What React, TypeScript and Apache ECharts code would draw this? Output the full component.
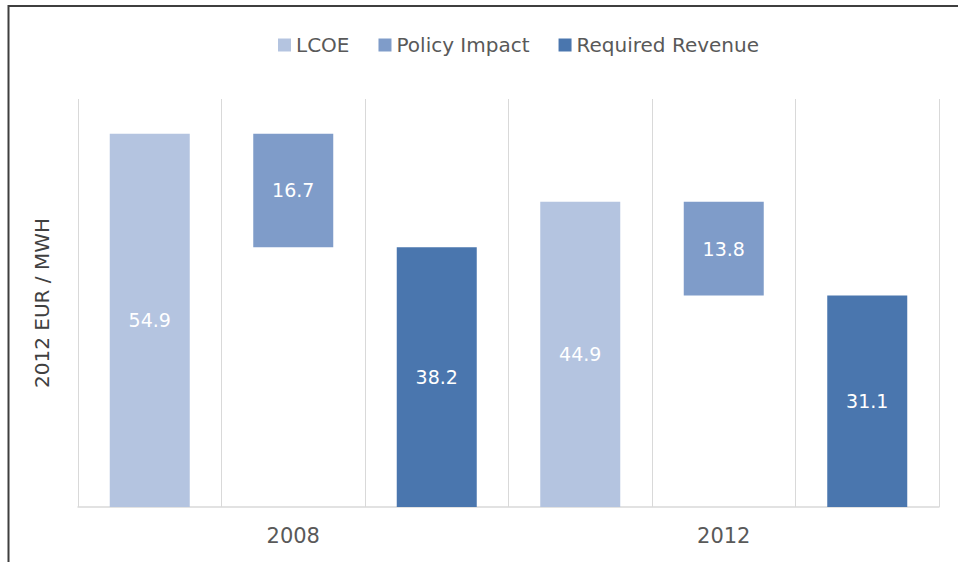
import React, { useEffect, useRef } from "react";
import * as echarts from "echarts";

const slots = ["2008 LCOE", "2008 Policy", "2008 Revenue", "2012 LCOE", "2012 Policy", "2012 Revenue"];
const years = ["2008", "2012"];
const baseValues = [0, 38.2, 0, 0, 31.1, 0];
const lcoeValues: (number | string)[] = [54.9, "-", "-", 44.9, "-", "-"];
const policyValues: (number | string)[] = ["-", 16.7, "-", "-", 13.8, "-"];
const revenueValues: (number | string)[] = ["-", "-", 38.2, "-", "-", 31.1];

const FONT = "'DejaVu Sans', sans-serif";
const TEXT = "#595959";

export default function App() {
  const ref = useRef<HTMLDivElement>(null);
  useEffect(() => {
    if (!ref.current) return;
    const chart = echarts.init(ref.current, undefined, { renderer: "svg" });
    const label = {
      show: true,
      position: "inside",
      color: "#ffffff",
      fontSize: 19,
      fontFamily: FONT,
      formatter: (p: any) => Number(p.value).toFixed(1),
    };
    chart.setOption({
      animation: false,
      textStyle: { fontFamily: FONT },
      legend: {
        top: 30,
        left: 273,
        data: ["LCOE", "Policy Impact", "Required Revenue"],
        icon: "rect",
        itemWidth: 13,
        itemHeight: 13,
        itemGap: 29,
        textStyle: { color: TEXT, fontSize: 20, fontFamily: FONT },
      },
      grid: { left: 78, right: 19, top: 99, bottom: 55, containLabel: false },
      xAxis: [
        {
          type: "category",
          data: slots,
          axisLabel: { show: false },
          axisTick: { show: false },
          axisLine: { show: true, lineStyle: { color: "#d9d9d9", width: 1.5 } },
          splitLine: { show: true, lineStyle: { color: "#d9d9d9", width: 1 } },
        },
        {
          type: "category",
          data: years,
          position: "bottom",
          axisLine: { show: false },
          axisTick: { show: false },
          splitLine: { show: false },
          axisLabel: { color: TEXT, fontSize: 21, fontFamily: FONT, margin: 18 },
        },
      ],
      yAxis: {
        type: "value",
        min: 0,
        max: 60,
        axisLabel: { show: false },
        axisLine: { show: false },
        axisTick: { show: false },
        splitLine: { show: false },
        name: "2012 EUR / MWH",
        nameLocation: "middle",
        nameRotate: 90,
        nameGap: 26,
        nameTextStyle: { color: "#404040", fontSize: 20, fontFamily: FONT },
      },
      series: [
        {
          name: "base",
          type: "bar",
          stack: "a",
          barWidth: 80,
          data: baseValues,
          itemStyle: { color: "rgba(0,0,0,0)" },
          emphasis: { disabled: true },
          silent: true,
        },
        {
          name: "LCOE",
          type: "bar",
          stack: "a",
          barWidth: 80,
          data: lcoeValues,
          itemStyle: { color: "#b4c4e0" },
          label,
        },
        {
          name: "Policy Impact",
          type: "bar",
          stack: "a",
          barWidth: 80,
          data: policyValues,
          itemStyle: { color: "#7f9cc9" },
          label,
        },
        {
          name: "Required Revenue",
          type: "bar",
          stack: "a",
          barWidth: 80,
          data: revenueValues,
          itemStyle: { color: "#4a76ae" },
          label,
        },
      ],
      graphic: [
        {
          type: "polyline",
          shape: { points: [[8.5, 562], [8.5, 6], [958, 6]] },
          style: { stroke: "#3f3f3f", lineWidth: 2, fill: "none" },
          silent: true,
        },
      ],
    });
    return () => chart.dispose();
  }, []);
  return (
    <div
      ref={ref}
      style={{ position: "absolute", left: 0, top: 0, width: 958, height: 562, background: "#ffffff" }}
    />
  );
}
